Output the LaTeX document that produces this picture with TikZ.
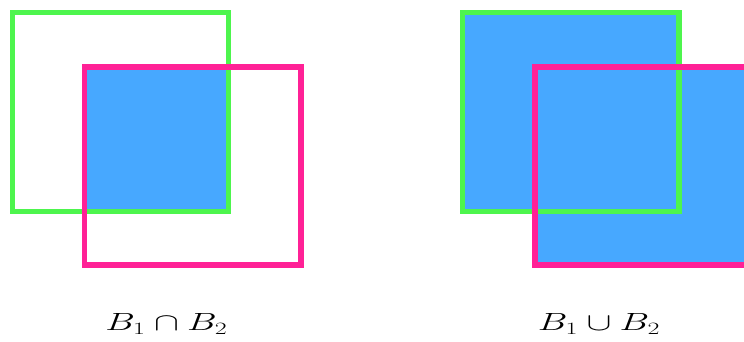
\documentclass[tikz,border=0pt]{standalone}
\usepackage{tikz}
\usetikzlibrary{positioning}
\definecolor{boxgreen}{HTML}{4DF54D}
\definecolor{boxpink}{HTML}{FF2196}
\definecolor{setblue}{HTML}{47A8FF}
\newcommand{\widemath}[1]{\scalebox{1.5}[1]{$#1$}}
\begin{document}
\begin{tikzpicture}[
    x=1pt, y=-1pt,
    greenbox/.style={draw=boxgreen, line width=5.3pt},
    pinkbox/.style={draw=boxpink, line width=5.3pt},
    setfill/.style={fill=setblue},
    setlabel/.style={anchor=base, inner sep=0pt, font=\fontsize{23.5}{28}\selectfont}
]
    \useasboundingbox (0,0) rectangle (744,342);
    \clip (0,0) rectangle (744,342);

    % intersection
    \fill[setfill] (84.7,67) rectangle (228.7,211.3);
    \draw[greenbox] (12.5,12.5) rectangle (228.7,211.3);
    \draw[pinkbox] (84.7,67) rectangle (301,265);
    \node[setlabel] (capl) at (166.5,330.5) {\widemath{B_1\cap B_2}};

    % union
    \fill[setfill] (462.8,12.5) rectangle (679,211.3);
    \fill[setfill] (535,67) rectangle (751.3,265);
    \draw[greenbox] (462.8,12.5) rectangle (679,211.3);
    \draw[pinkbox] (535,67) rectangle (751.3,265);
    \node[setlabel] (cupl) at (599,330.5) {\widemath{B_1\cup B_2}};
\end{tikzpicture}
\end{document}
